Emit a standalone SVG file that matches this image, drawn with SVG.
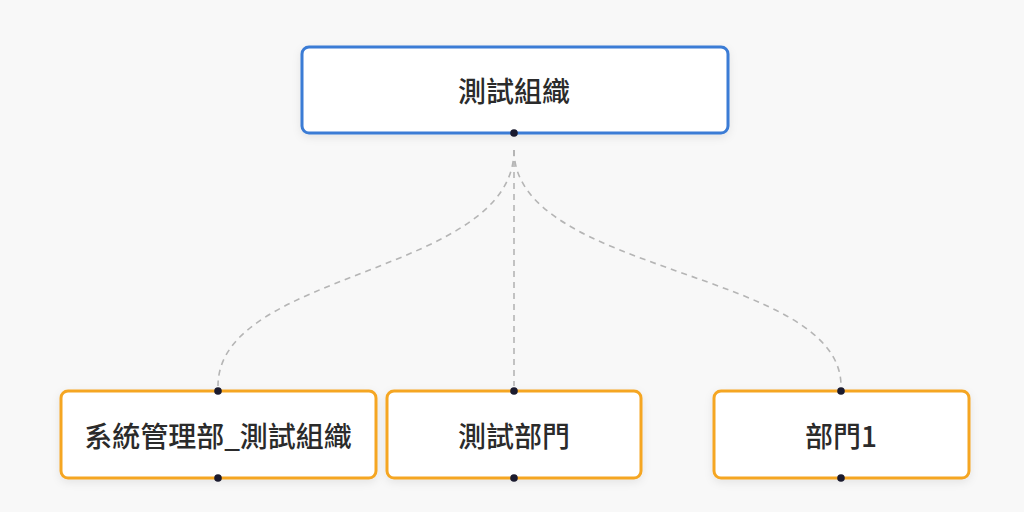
<svg xmlns="http://www.w3.org/2000/svg" width="1024" height="512" viewBox="0 0 1024 512">
<defs>
<filter id="sh" x="-10%" y="-20%" width="120%" height="150%">
<feDropShadow dx="0" dy="3" stdDeviation="4" flood-color="#000" flood-opacity="0.08"/>
</filter>
<style>
.node rect{fill:#ffffff;stroke-width:3}
.root rect{stroke:#3a7bd5}
.child rect{stroke:#f5a623}
.node text{font-family:"Noto Sans CJK TC","Noto Sans",sans-serif;font-size:28px;font-weight:500;fill:#2b2b2b;text-anchor:middle;dominant-baseline:central}
.dot{fill:#1b1b2f}
.edge{fill:none;stroke:#b5b5b5;stroke-width:1.6;stroke-dasharray:6 5}
</style>
</defs>
<rect width="1024" height="512" fill="#f8f8f8"/>
<g id="connectors">
<path class="edge" d="M514,150 C514,275 218,270 218,386"/>
<path class="edge" d="M514,150 L514,386"/>
<path class="edge" d="M514,150 C514,275 841,270 841,386"/>
</g>
<g id="node-root" class="node root">
<rect x="302" y="47" width="426" height="86" rx="7" filter="url(#sh)"/>
<text x="514" y="90">測試組織</text>
<circle class="dot" cx="514" cy="133" r="3.8"/>
</g>
<g id="node-sysadmin" class="node child">
<rect x="61" y="391" width="315" height="87" rx="7" filter="url(#sh)"/>
<text x="218" y="435">系統管理部_測試組織</text>
<circle class="dot" cx="218" cy="391" r="3.8"/>
<circle class="dot" cx="218" cy="478" r="3.8"/>
</g>
<g id="node-testdept" class="node child">
<rect x="387" y="391" width="254" height="87" rx="7" filter="url(#sh)"/>
<text x="514" y="435">測試部門</text>
<circle class="dot" cx="514" cy="391" r="3.8"/>
<circle class="dot" cx="514" cy="478" r="3.8"/>
</g>
<g id="node-dept1" class="node child">
<rect x="714" y="391" width="255" height="87" rx="7" filter="url(#sh)"/>
<text x="841" y="435">部門1</text>
<circle class="dot" cx="841" cy="391" r="3.8"/>
<circle class="dot" cx="841" cy="478" r="3.8"/>
</g>
</svg>
